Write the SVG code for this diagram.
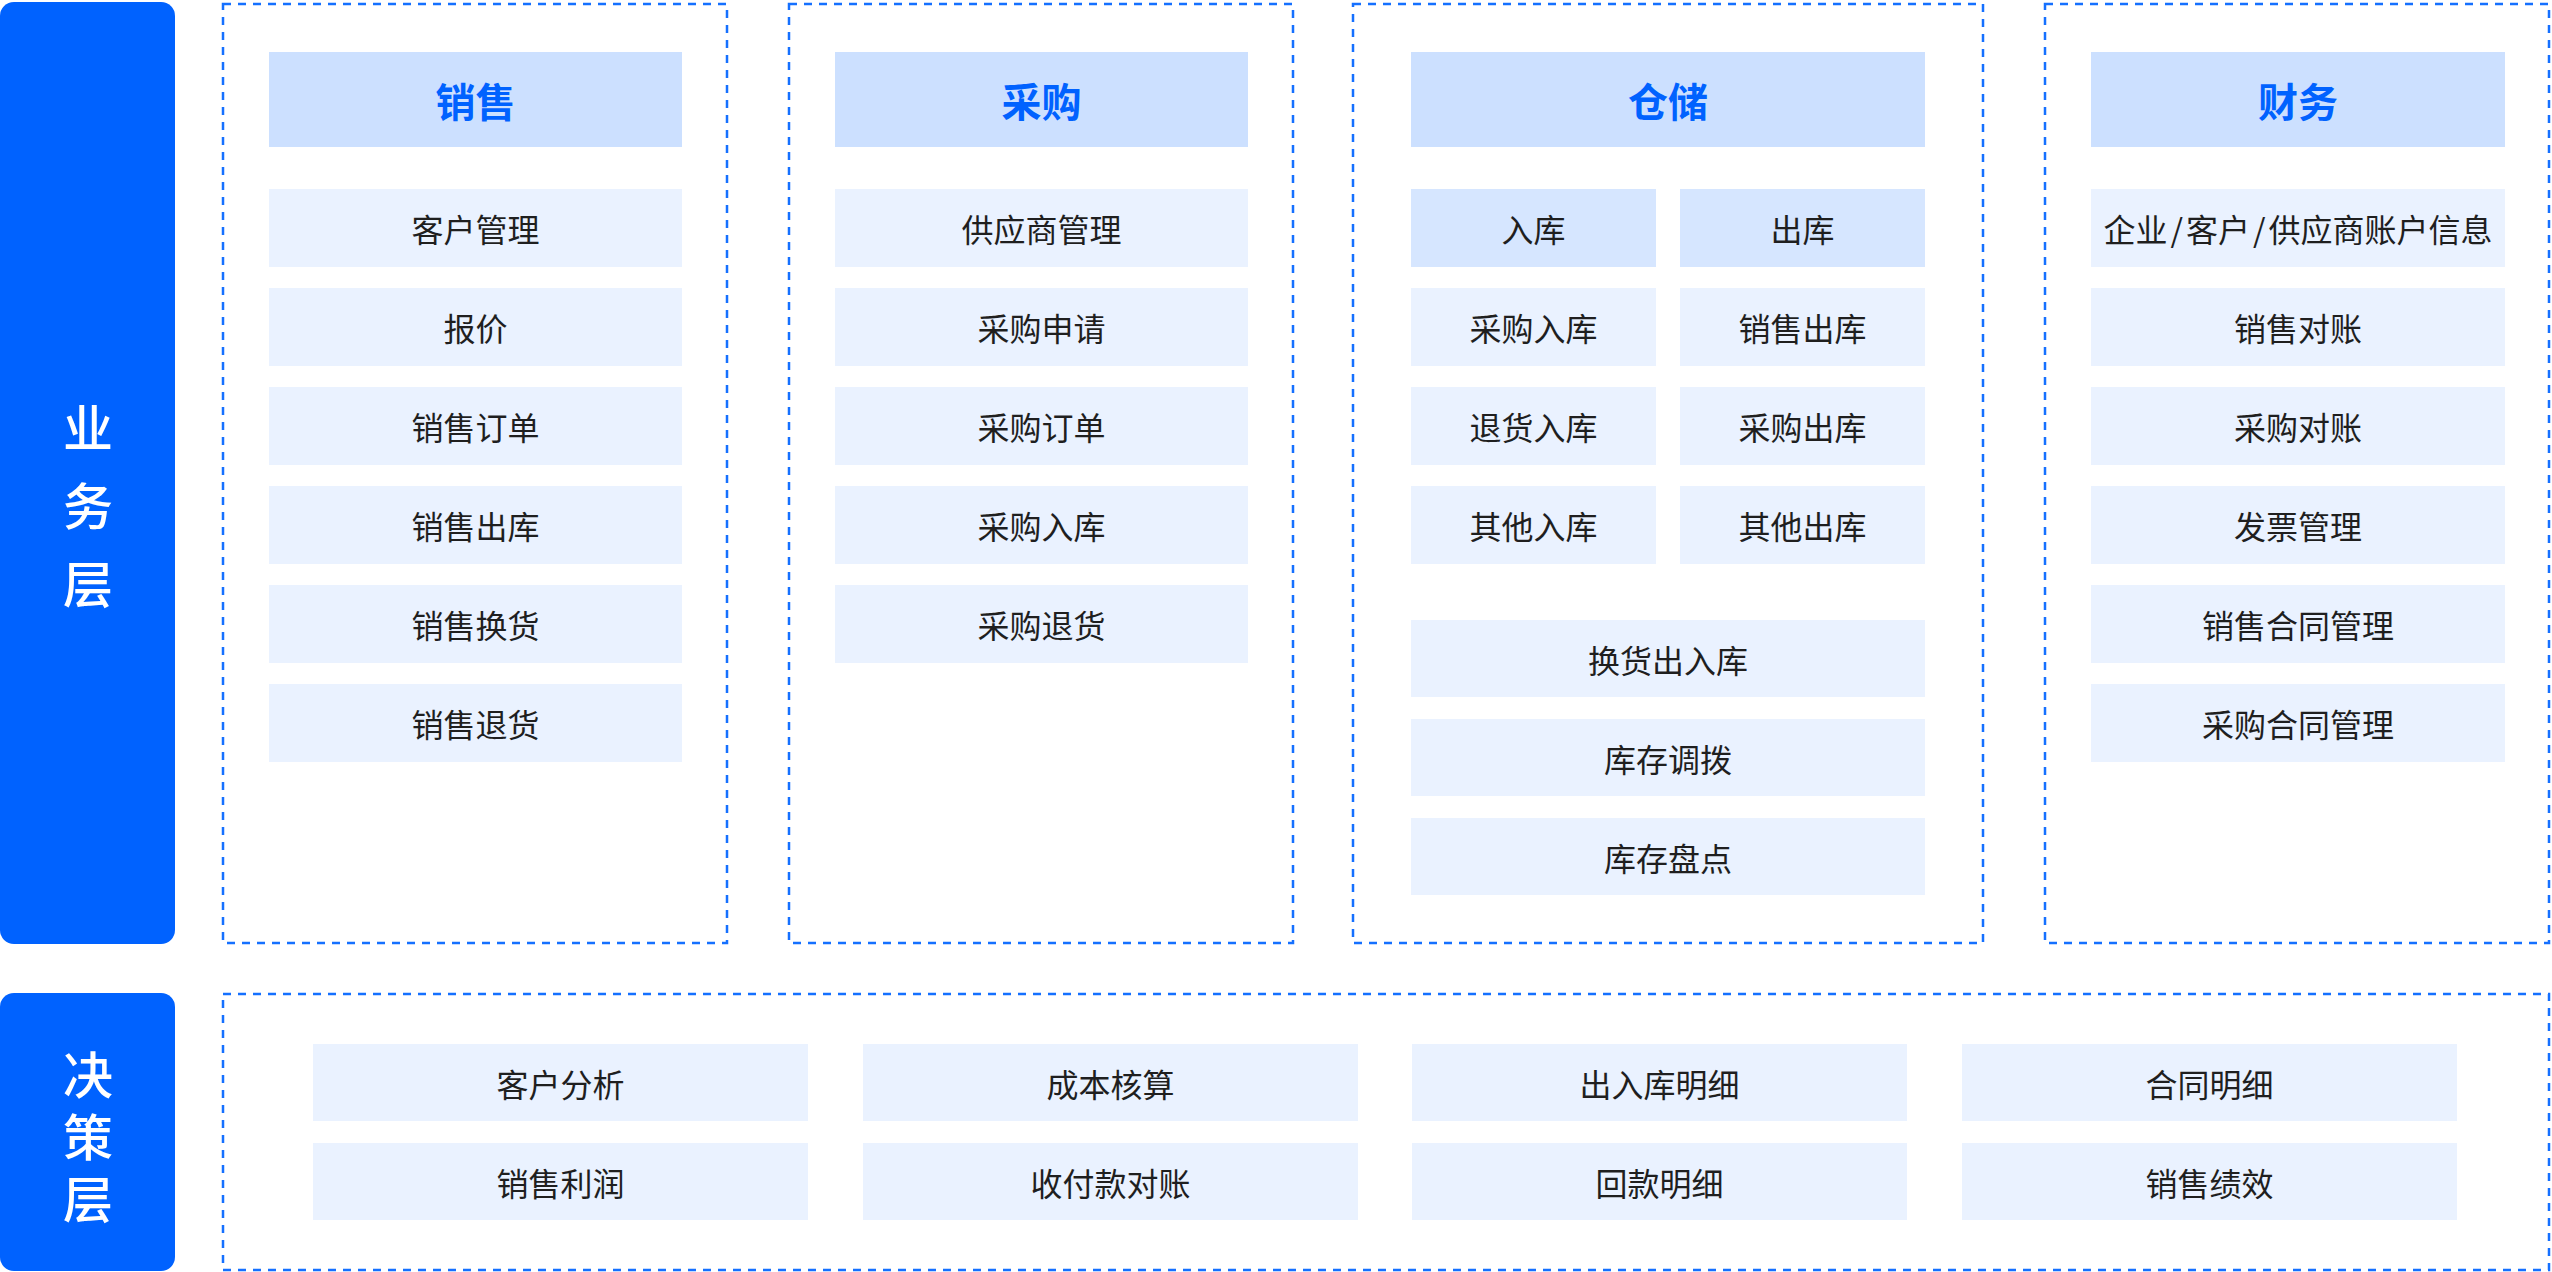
<svg xmlns="http://www.w3.org/2000/svg" width="2552" height="1272" viewBox="0 0 2552 1272">
<style>
text{font-family:"Noto Sans CJK SC","Noto Sans",sans-serif;text-anchor:middle;dominant-baseline:central}
.bar{fill:#0062FF}
.side{fill:#FFFFFF;font-size:50px;font-weight:500;writing-mode:vertical-rl;dominant-baseline:auto}
.frame{fill:none;stroke:#1570FF;stroke-width:2.5;stroke-dasharray:8 7}
.hd{fill:#CCE0FF}
.hdt{fill:#0062FF;font-size:40px;font-weight:600}
.sub{fill:#D6E6FF}
.it{fill:#EAF2FF}
.t{fill:#1F1F1F;font-size:32px}
</style>
<rect width="2552" height="1272" fill="#FFFFFF"/>

<g id="layer-business">
<rect class="bar" x="0" y="2" width="175" height="942" rx="14"/>
<text class="side" x="88" y="519.5" letter-spacing="28">业务层</text>
</g>
<g id="layer-decision">
<rect class="bar" x="0" y="993" width="175" height="278" rx="14"/>
<text class="side" x="88" y="1143" letter-spacing="12">决策层</text>
</g>

<g id="frame-sales"><rect class="frame" x="223" y="4" width="504" height="939"/></g>
<g id="frame-purchase"><rect class="frame" x="789" y="4" width="504" height="939"/></g>
<g id="frame-storage"><rect class="frame" x="1353" y="4" width="630" height="939"/></g>
<g id="frame-finance"><rect class="frame" x="2045" y="4" width="504" height="939"/></g>
<g id="frame-decision"><rect class="frame" x="223" y="994" width="2326" height="276"/></g>

<!-- Sales -->
<g id="sales-header"><rect class="hd" x="269" y="52" width="413" height="95"/><text class="hdt" x="475.5" y="99.5">销售</text></g>
<g id="sales-1"><rect class="it" x="269" y="189" width="413" height="78"/><text class="t" x="475.5" y="228">客户管理</text></g>
<g id="sales-2"><rect class="it" x="269" y="288" width="413" height="78"/><text class="t" x="475.5" y="327">报价</text></g>
<g id="sales-3"><rect class="it" x="269" y="387" width="413" height="78"/><text class="t" x="475.5" y="426">销售订单</text></g>
<g id="sales-4"><rect class="it" x="269" y="486" width="413" height="78"/><text class="t" x="475.5" y="525">销售出库</text></g>
<g id="sales-5"><rect class="it" x="269" y="585" width="413" height="78"/><text class="t" x="475.5" y="624">销售换货</text></g>
<g id="sales-6"><rect class="it" x="269" y="684" width="413" height="78"/><text class="t" x="475.5" y="723">销售退货</text></g>

<!-- Purchase -->
<g id="purchase-header"><rect class="hd" x="835" y="52" width="413" height="95"/><text class="hdt" x="1041.5" y="99.5">采购</text></g>
<g id="purchase-1"><rect class="it" x="835" y="189" width="413" height="78"/><text class="t" x="1041.5" y="228">供应商管理</text></g>
<g id="purchase-2"><rect class="it" x="835" y="288" width="413" height="78"/><text class="t" x="1041.5" y="327">采购申请</text></g>
<g id="purchase-3"><rect class="it" x="835" y="387" width="413" height="78"/><text class="t" x="1041.5" y="426">采购订单</text></g>
<g id="purchase-4"><rect class="it" x="835" y="486" width="413" height="78"/><text class="t" x="1041.5" y="525">采购入库</text></g>
<g id="purchase-5"><rect class="it" x="835" y="585" width="413" height="78"/><text class="t" x="1041.5" y="624">采购退货</text></g>

<!-- Storage -->
<g id="storage-header"><rect class="hd" x="1411" y="52" width="514" height="95"/><text class="hdt" x="1668" y="99.5">仓储</text></g>
<g id="storage-in"><rect class="sub" x="1411" y="189" width="245" height="78"/><text class="t" x="1533.5" y="228">入库</text></g>
<g id="storage-out"><rect class="sub" x="1680" y="189" width="245" height="78"/><text class="t" x="1802.5" y="228">出库</text></g>
<g id="storage-in-1"><rect class="it" x="1411" y="288" width="245" height="78"/><text class="t" x="1533.5" y="327">采购入库</text></g>
<g id="storage-out-1"><rect class="it" x="1680" y="288" width="245" height="78"/><text class="t" x="1802.5" y="327">销售出库</text></g>
<g id="storage-in-2"><rect class="it" x="1411" y="387" width="245" height="78"/><text class="t" x="1533.5" y="426">退货入库</text></g>
<g id="storage-out-2"><rect class="it" x="1680" y="387" width="245" height="78"/><text class="t" x="1802.5" y="426">采购出库</text></g>
<g id="storage-in-3"><rect class="it" x="1411" y="486" width="245" height="78"/><text class="t" x="1533.5" y="525">其他入库</text></g>
<g id="storage-out-3"><rect class="it" x="1680" y="486" width="245" height="78"/><text class="t" x="1802.5" y="525">其他出库</text></g>
<g id="storage-4"><rect class="it" x="1411" y="620" width="514" height="77"/><text class="t" x="1668" y="658.5">换货出入库</text></g>
<g id="storage-5"><rect class="it" x="1411" y="719" width="514" height="77"/><text class="t" x="1668" y="757.5">库存调拨</text></g>
<g id="storage-6"><rect class="it" x="1411" y="818" width="514" height="77"/><text class="t" x="1668" y="856.5">库存盘点</text></g>

<!-- Finance -->
<g id="finance-header"><rect class="hd" x="2091" y="52" width="414" height="95"/><text class="hdt" x="2298" y="99.5">财务</text></g>
<g id="finance-1"><rect class="it" x="2091" y="189" width="414" height="78"/><text class="t" x="2298" y="228">企业<tspan dx="3">/</tspan><tspan dx="3">客户</tspan><tspan dx="3">/</tspan><tspan dx="3">供应商账户信息</tspan></text></g>
<g id="finance-2"><rect class="it" x="2091" y="288" width="414" height="78"/><text class="t" x="2298" y="327">销售对账</text></g>
<g id="finance-3"><rect class="it" x="2091" y="387" width="414" height="78"/><text class="t" x="2298" y="426">采购对账</text></g>
<g id="finance-4"><rect class="it" x="2091" y="486" width="414" height="78"/><text class="t" x="2298" y="525">发票管理</text></g>
<g id="finance-5"><rect class="it" x="2091" y="585" width="414" height="78"/><text class="t" x="2298" y="624">销售合同管理</text></g>
<g id="finance-6"><rect class="it" x="2091" y="684" width="414" height="78"/><text class="t" x="2298" y="723">采购合同管理</text></g>

<!-- Decision layer -->
<g id="dec-1"><rect class="it" x="313" y="1044" width="495" height="77"/><text class="t" x="560.5" y="1082.5">客户分析</text></g>
<g id="dec-2"><rect class="it" x="863" y="1044" width="495" height="77"/><text class="t" x="1110.5" y="1082.5">成本核算</text></g>
<g id="dec-3"><rect class="it" x="1412" y="1044" width="495" height="77"/><text class="t" x="1659.5" y="1082.5">出入库明细</text></g>
<g id="dec-4"><rect class="it" x="1962" y="1044" width="495" height="77"/><text class="t" x="2209.5" y="1082.5">合同明细</text></g>
<g id="dec-5"><rect class="it" x="313" y="1143" width="495" height="77"/><text class="t" x="560.5" y="1181.5">销售利润</text></g>
<g id="dec-6"><rect class="it" x="863" y="1143" width="495" height="77"/><text class="t" x="1110.5" y="1181.5">收付款对账</text></g>
<g id="dec-7"><rect class="it" x="1412" y="1143" width="495" height="77"/><text class="t" x="1659.5" y="1181.5">回款明细</text></g>
<g id="dec-8"><rect class="it" x="1962" y="1143" width="495" height="77"/><text class="t" x="2209.5" y="1181.5">销售绩效</text></g>

<g id="connectors"/>
</svg>
